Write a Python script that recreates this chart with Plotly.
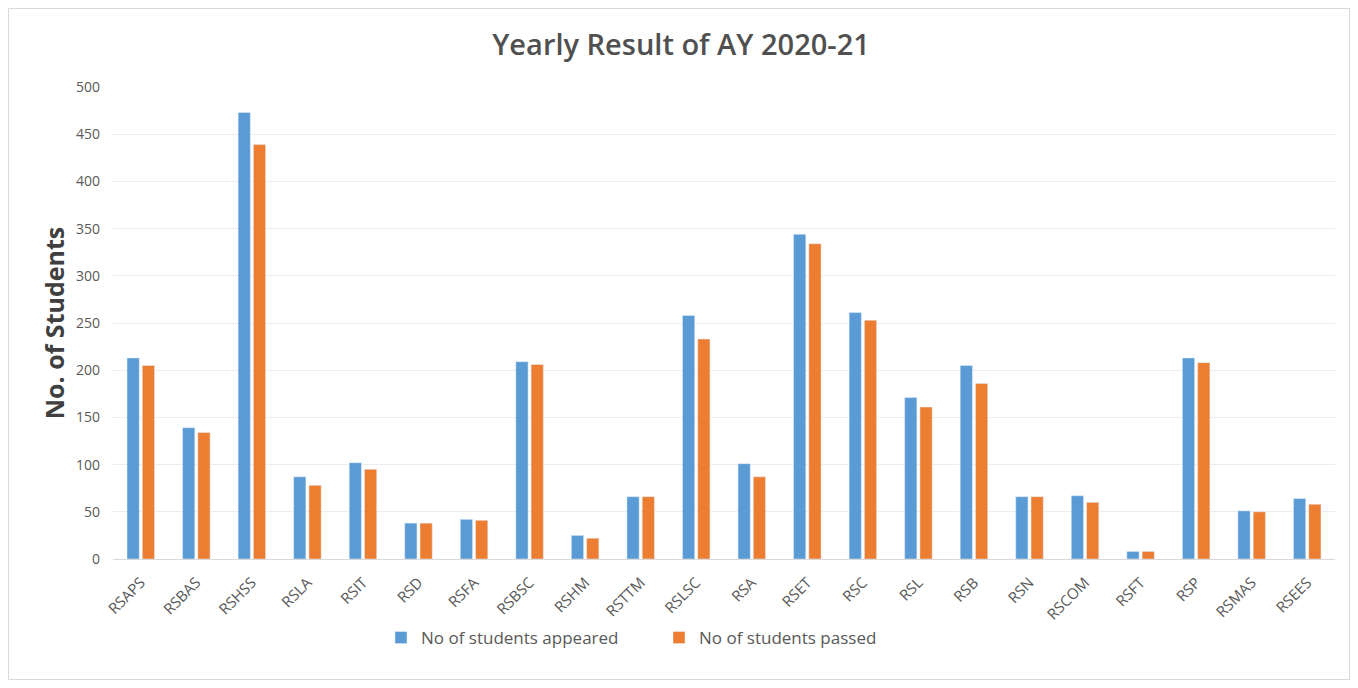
import plotly.graph_objects as go

categories = ["RSAPS", "RSBAS", "RSHSS", "RSLA", "RSIT", "RSD", "RSFA", "RSBSC", "RSHM", "RSTTM",
              "RSLSC", "RSA", "RSET", "RSC", "RSL", "RSB", "RSN", "RSCOM", "RSFT", "RSP", "RSMAS", "RSEES"]
appeared = [213, 139, 473, 87, 102, 38, 42, 209, 25, 66, 258, 101, 344, 261, 171, 205, 66, 67, 8, 213, 51, 64]
passed = [205, 134, 439, 78, 95, 38, 41, 206, 22, 66, 233, 87, 334, 253, 161, 186, 66, 60, 8, 208, 50, 58]
y_ticks = [0, 50, 100, 150, 200, 250, 300, 350, 400, 450, 500]

# page has an 8px body margin; figure size reduced accordingly
OFF = 8
W, H = 1358 - 2 * OFF, 688 - 2 * OFF
# target page pixel positions of plot area
P_L, P_R, P_T, P_B = 113, 1335, 87, 559
ml, mr, mt, mb = P_L - OFF, W - (P_R - OFF), P_T - OFF, H - (P_B - OFF)

fig = go.Figure()
fig.add_trace(go.Bar(x=categories, y=appeared, name="No of students appeared", marker_color="#5B9BD5"))
fig.add_trace(go.Bar(x=categories, y=passed, name="No of students passed", marker_color="#ED7D31"))

pw = W - ml - mr
ph = H - mt - mb
def px_x(p):
    return (p - OFF - ml) / pw
def px_y(p):
    return (H - mb - (p - OFF)) / ph

fig.update_layout(
    width=W, height=H,
    margin=dict(l=ml, r=mr, t=mt, b=mb),
    paper_bgcolor="white", plot_bgcolor="white",
    barmode="group", bargap=0.45, bargroupgap=0.2,
    font=dict(family="Open Sans", color="#595959"),
    title=dict(text="Yearly Result of AY 2020-21", x=(681 - OFF) / W, xanchor="center", y=1 - (45 - OFF) / H, yanchor="middle",
               font=dict(family="Open Sans", size=29, weight=600, color="#505050")),
    xaxis=dict(tickangle=-45, tickfont=dict(size=15, color="#595959"), showline=True, linecolor="#D9D9D9",
               showgrid=False, ticks="", ticklabelstandoff=8, range=[-0.5, len(categories) - 0.5]),
    yaxis=dict(range=[0, 500], tickvals=y_ticks, tickfont=dict(size=14, color="#595959"), showgrid=True,
               gridcolor="#EDEDED", zeroline=False, ticks="", ticklabelstandoff=12,
               title=dict(text="<b>No. of Students</b>", font=dict(family="Open Sans", size=25, color="#404040"), standoff=4)),
    legend=dict(orientation="h", x=px_x(381), xanchor="left", y=px_y(638), yanchor="middle",
                entrywidth=233, entrywidthmode="pixels",
                font=dict(size=17, color="#595959")),
    shapes=[dict(type="rect", xref="paper", yref="paper", x0=px_x(8.5), x1=px_x(1349.5), y0=px_y(679.5), y1=px_y(8.5),
                 line=dict(color="#D9D9D9", width=1), layer="below")],
)

fig.write_html("out.html")
